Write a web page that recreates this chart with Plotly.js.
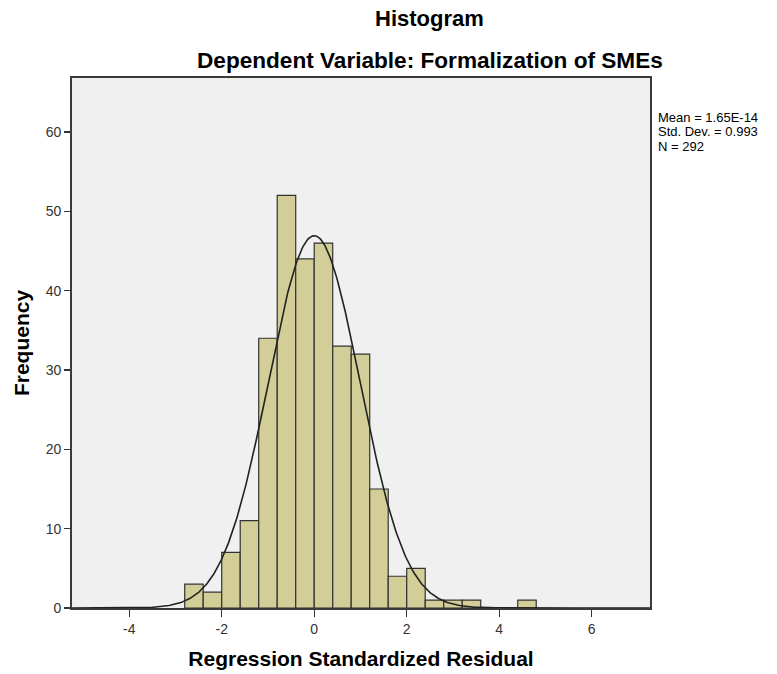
<!DOCTYPE html>
<html>
<head>
<meta charset="utf-8">
<script src="https://cdn.plot.ly/plotly-3.0.1.min.js"></script>
<style>html,body{margin:0;padding:0;background:#fff;}#chart{width:777px;height:674px;}</style>
</head>
<body>
<div id="chart"></div>
<script>
// Histogram bins (left edges, width 0.4) and frequencies
const binLeftEdges = [-2.8, -2.4, -2.0, -1.6, -1.2, -0.8, -0.4, 0.0, 0.4, 0.8, 1.2, 1.6, 2.0, 2.4, 2.8, 3.2, 4.4];
const counts       = [3,    2,    7,    11,   34,   52,   44,   46,  33,  32,  15,  4,   5,   1,   1,   1,   1];
const binWidth = 0.4;
// Summary statistics shown in the legend
const meanVal = 1.65e-14;
const sdVal = 0.993;
const nVal = 292;
const statsLabels = ["Mean = 1.65E-14", "Std. Dev. = 0.993", "N = 292"];
const xTickVals = [-4, -2, 0, 2, 4, 6];
const yTickVals = [0, 10, 20, 30, 40, 50, 60];

const binCenters = binLeftEdges.map(e => e + binWidth / 2);

// Normal curve fitted from the reported mean, sd and N
const curveX = [];
const curveY = [];
for (let x = -5.3; x <= 7.3; x += 0.02) {
  curveX.push(x);
  const z = (x - meanVal) / sdVal;
  curveY.push(nVal * binWidth * Math.exp(-0.5 * z * z) / (sdVal * Math.sqrt(2 * Math.PI)));
}

const traces = [
  {
    type: 'bar',
    x: binCenters,
    y: counts,
    width: binWidth,
    marker: {color: '#D3CE97', line: {color: '#333333', width: 1.2}},
    hoverinfo: 'x+y'
  },
  {
    type: 'scatter',
    mode: 'lines',
    x: curveX,
    y: curveY,
    line: {color: '#222222', width: 1.6},
    hoverinfo: 'skip'
  }
];

const font = 'Liberation Sans, Arial, sans-serif';
const statsY = [117, 131.5, 146];
const annotations = [
  {text: '<b>Histogram</b>', xref: 'paper', yref: 'paper', x: (429 - 72) / 578, y: 1 + (78 - 18) / 530, xanchor: 'center', yanchor: 'middle', showarrow: false, font: {family: font, size: 22, color: '#000000'}},
  {text: '<b>Dependent Variable: Formalization of SMEs</b>', xref: 'paper', yref: 'paper', x: (430 - 72) / 578, y: 1 + (78 - 60) / 530, xanchor: 'center', yanchor: 'middle', showarrow: false, font: {family: font, size: 22.6, color: '#000000'}}
];
statsLabels.forEach((t, i) => {
  annotations.push({text: t, xref: 'paper', yref: 'paper', x: (656 - 72) / 578, y: 1 - (statsY[i] - 78) / 530, xanchor: 'left', yanchor: 'middle', align: 'left', showarrow: false, font: {family: font, size: 13, color: '#000000'}});
});

const layout = {
  width: 777,
  height: 674,
  margin: {l: 72, r: 127, t: 78, b: 66},
  paper_bgcolor: '#ffffff',
  plot_bgcolor: '#F0F0F0',
  showlegend: false,
  bargap: 0,
  font: {family: font, color: '#333333', size: 14},
  xaxis: {
    range: [-5.237, 7.26],
    tickvals: xTickVals,
    ticktext: xTickVals.map(String),
    ticks: 'outside',
    ticklen: 7,
    tickwidth: 1.3,
    tickcolor: '#333333',
    showline: true,
    linecolor: '#3a3a3a',
    linewidth: 1.8,
    mirror: true,
    showgrid: false,
    zeroline: false,
    tickfont: {family: font, size: 14, color: '#333333'},
    title: {text: 'Regression Standardized Residual', font: {family: font, size: 21, color: '#000000', weight: 'bold'}, standoff: 16}
  },
  yaxis: {
    range: [0, 66.8],
    tickvals: yTickVals,
    ticks: 'outside',
    ticklen: 6,
    tickwidth: 1.3,
    tickcolor: '#333333',
    showline: true,
    linecolor: '#3a3a3a',
    linewidth: 1.8,
    mirror: true,
    showgrid: false,
    zeroline: false,
    tickfont: {family: font, size: 14, color: '#333333'},
    title: {text: 'Frequency', font: {family: font, size: 21, color: '#000000', weight: 'bold'}, standoff: 10}
  },
  annotations: annotations
};

Plotly.newPlot('chart', traces, layout, {displayModeBar: false, staticPlot: true});
</script>
</body>
</html>
